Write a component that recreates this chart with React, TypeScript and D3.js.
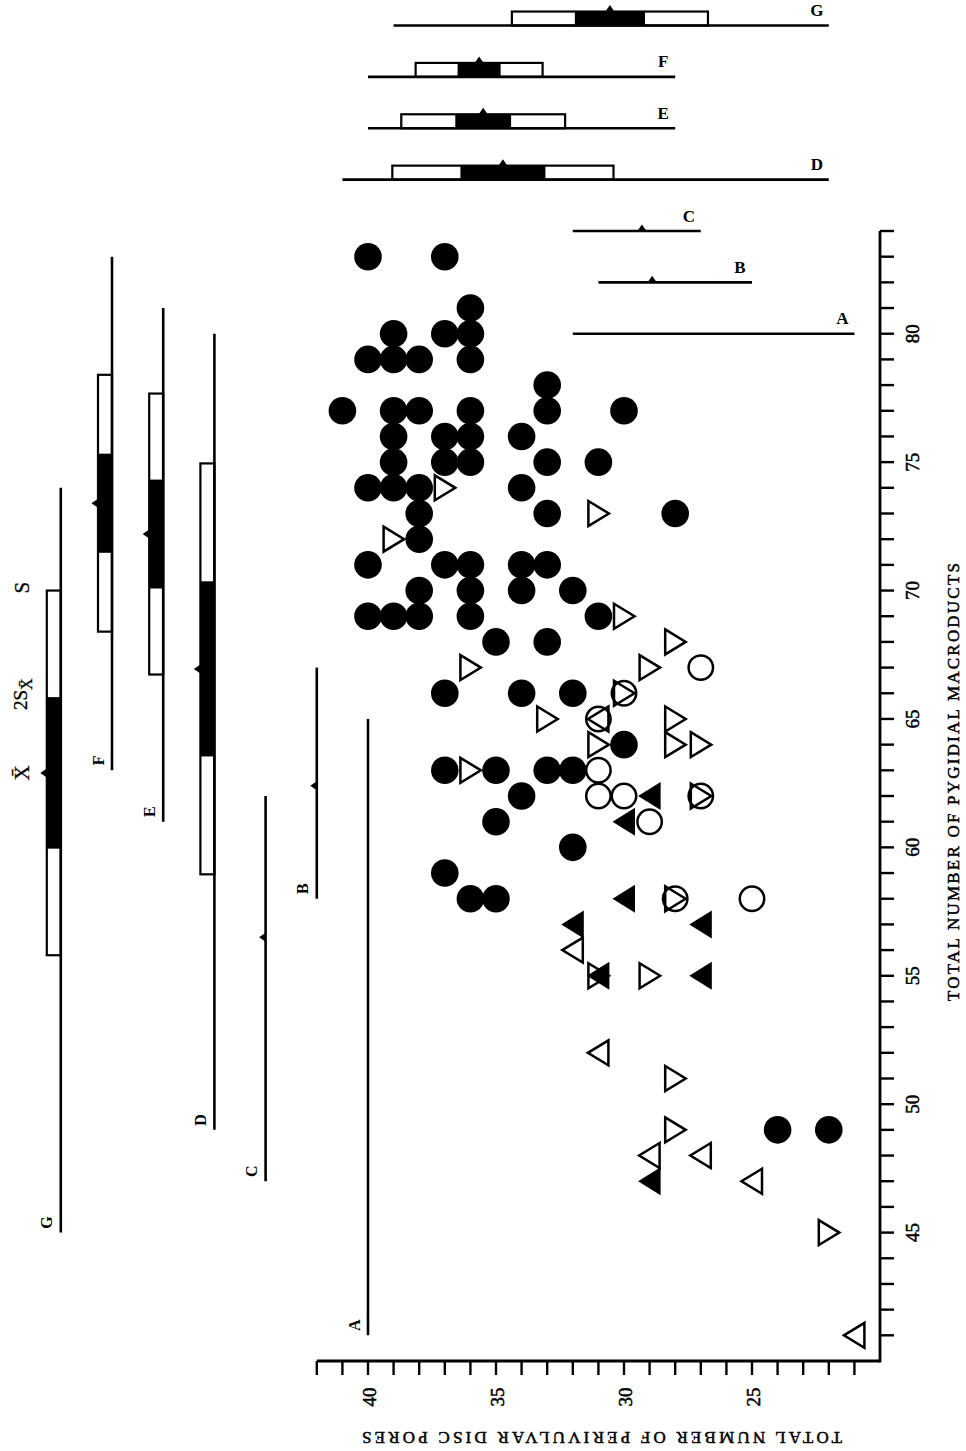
import React from 'react';
import * as d3 from 'd3';

// ---------- DATA ----------
// scatter symbols: [perivulvar disc pores, pygidial macroducts]
const filledCircles: [number, number][] = [
  [40, 83], [37, 83], [36, 81], [39, 80], [37, 80], [36, 80], [40, 79], [39, 79], [38, 79], [36, 79],
  [33, 78], [41, 77], [39, 77], [38, 77], [36, 77], [33, 77], [30, 77], [39, 76], [37, 76], [36, 76],
  [34, 76], [39, 75], [37, 75], [36, 75], [33, 75], [31, 75], [40, 74], [39, 74], [38, 74], [34, 74],
  [38, 73], [33, 73], [28, 73], [38, 72], [40, 71], [37, 71], [36, 71], [34, 71], [33, 71], [38, 70],
  [36, 70], [34, 70], [32, 70], [40, 69], [39, 69], [38, 69], [36, 69], [31, 69], [35, 68], [33, 68],
  [37, 66], [34, 66], [32, 66], [30, 64], [37, 63], [35, 63], [33, 63], [32, 63], [34, 62], [35, 61],
  [32, 60], [37, 59], [36, 58], [35, 58], [24, 49], [22, 49],
];
const openCircles: [number, number][] = [
  [31, 63], [31, 62], [30, 62], [29, 61], [27, 67], [25, 58], [30, 66], [27, 62], [28, 58], [31, 65],
];
const openRightTriangles: [number, number][] = [
  [37, 74], [31, 73], [39, 72], [30, 69], [28, 68], [29, 67], [36, 67], [33, 65], [28, 65], [31, 64],
  [28, 64], [27, 64], [36, 63], [31, 55], [29, 55], [28, 51], [28, 49], [22, 45], [30, 66], [27, 62],
  [28, 58],
];
const openLeftTriangles: [number, number][] = [
  [32, 56], [31, 52], [29, 48], [27, 48], [25, 47], [21, 41], [31, 65],
];
const filledLeftTriangles: [number, number][] = [
  [30, 61], [29, 62], [30, 58], [32, 57], [27, 57], [31, 55], [27, 55], [29, 47],
];

// Dice-Leraas diagrams
const groups = ['A', 'B', 'C', 'D', 'E', 'F', 'G'];
// macroducts (left set)
const macroMin = [41, 58, 47, 49, 61, 63, 45];
const macroMax = [65, 67, 62, 80, 81, 83, 74];
const macroMean: (number | null)[] = [null, 62.4, 56.5, 66.95, 72.2, 73.4, 62.9];
const macroSD: (number | null)[] = [null, null, null, 8.0, 5.47, 5.0, 7.1];
const macro2SE: (number | null)[] = [null, null, null, 3.41, 2.12, 1.93, 2.95];
const macroDiagramAt = [40, 42, 44, 46, 48, 50, 52]; // placed along pores scale
// pores (top-right set)
const poresMin = [21, 25, 27, 22, 28, 28, 22];
const poresMax = [32, 31, 32, 41, 40, 40, 39];
const poresMean: (number | null)[] = [null, 28.9, 29.3, 34.73, 35.5, 35.66, 30.55];
const poresSD: (number | null)[] = [null, null, null, 4.32, 3.2, 2.48, 3.83];
const pores2SE: (number | null)[] = [null, null, null, 1.66, 1.09, 0.84, 1.37];
const poresDiagramAt = [80, 82, 84, 86, 88, 90, 92]; // placed along macroducts scale

// axes
const poresTickValues = d3.range(21, 43);
const poresTickLabels = [40, 35, 30, 25];
const macroTickValues = d3.range(41, 85);
const macroTickLabels = [45, 50, 55, 60, 65, 70, 75, 80];
const poresTitle = 'TOTAL NUMBER OF PERIVULVAR DISC PORES';
const macroTitle = 'TOTAL NUMBER OF PYGIDIAL MACRODUCTS';

// ---------- SCALES ----------
const W = 966, H = 1451;
const xP = d3.scaleLinear().domain([20, 40]).range([880, 368]); // pores -> screen x
const yM = d3.scaleLinear().domain([40, 84]).range([1361, 231]); // macroducts -> screen y

const BW = 14; // diagram box thickness
const serif = '"Liberation Serif", "DejaVu Serif", serif';

const triRight = (cx: number, cy: number) => `M${cx - 10},${cy - 12.5}L${cx + 10.5},${cy}L${cx - 10},${cy + 12.5}Z`;
const triLeft = (cx: number, cy: number) => `M${cx + 10},${cy - 12.5}L${cx - 10.5},${cy}L${cx + 10},${cy + 12.5}Z`;
const triLeftFilled = (cx: number, cy: number) => `M${cx + 11},${cy - 14}L${cx - 11.5},${cy}L${cx + 11},${cy + 14}Z`;

export default function App() {
  const axisY = yM(40);
  const axisX = xP(20);
  const gMean = macroMean[6] as number;

  return (
    <svg width={W} height={H} viewBox={`0 0 ${W} ${H}`} style={{ position: 'absolute', left: 0, top: 0, background: '#fff' }}>
      <rect x={0} y={0} width={W} height={H} fill="#fff" />

      {/* axes */}
      <line x1={xP(42)} x2={axisX} y1={axisY} y2={axisY} stroke="#000" strokeWidth={2.8} />
      <line x1={axisX} x2={axisX} y1={axisY + 1.4} y2={yM(84)} stroke="#000" strokeWidth={2.8} />
      {poresTickValues.map(v => (
        <line key={'pt' + v} x1={xP(v)} x2={xP(v)} y1={axisY} y2={axisY + 14} stroke="#000" strokeWidth={2.4} />
      ))}
      {macroTickValues.map(v => (
        <line key={'mt' + v} x1={axisX} x2={axisX + 14} y1={yM(v)} y2={yM(v)} stroke="#000" strokeWidth={2.4} />
      ))}
      {poresTickLabels.map(v => (
        <text key={'pl' + v} transform={`translate(${xP(v) + 1},${axisY + 36}) rotate(-90)`} textAnchor="middle"
          dominantBaseline="central" fontFamily={serif} fontSize={19} stroke="#000" strokeWidth={0.5}>{v}</text>
      ))}
      {macroTickLabels.map(v => (
        <text key={'ml' + v} transform={`translate(${axisX + 32},${yM(v)}) rotate(-90)`} textAnchor="middle"
          dominantBaseline="central" fontFamily={serif} fontSize={19} stroke="#000" strokeWidth={0.5}>{v}</text>
      ))}
      <text transform={`translate(602,1437) rotate(180)`} textAnchor="middle" dominantBaseline="central"
        fontFamily={serif} fontSize={17} textLength={480} lengthAdjust="spacing" stroke="#000" strokeWidth={0.5}>{poresTitle}</text>
      <text transform={`translate(953,782) rotate(-90)`} textAnchor="middle" dominantBaseline="central"
        fontFamily={serif} fontSize={17} textLength={438} lengthAdjust="spacing" stroke="#000" strokeWidth={0.5}>{macroTitle}</text>

      {/* left diagrams (macroducts) */}
      {groups.map((g, i) => {
        const x = xP(macroDiagramAt[i]);
        const mean = macroMean[i], sd = macroSD[i], se = macro2SE[i];
        const tipBase = sd != null ? x - BW : x;
        return (
          <g key={'ld' + g}>
            {sd != null && mean != null && (
              <rect x={x - BW} y={yM(mean + sd)} width={BW} height={yM(mean - sd) - yM(mean + sd)} fill="#fff" stroke="#000" strokeWidth={2.2} />
            )}
            {se != null && mean != null && (
              <rect x={x - BW} y={yM(mean + se)} width={BW} height={yM(mean - se) - yM(mean + se)} fill="#000" />
            )}
            <line x1={x} x2={x} y1={yM(macroMax[i])} y2={yM(macroMin[i])} stroke="#000" strokeWidth={2.6} />
            {mean != null && (
              <path d={`M${tipBase},${yM(mean) - 4.5}L${tipBase - 6.5},${yM(mean)}L${tipBase},${yM(mean) + 4.5}Z`} fill="#000" />
            )}
            <text transform={`translate(${x - 14},${yM(macroMin[i]) - 10}) rotate(-90)`} textAnchor="middle" dominantBaseline="central"
              fontFamily={serif} fontWeight="bold" fontSize={16}>{g}</text>
          </g>
        );
      })}
      {/* header labels of the G diagram */}
      <text transform={`translate(22,${yM(gMean + (macroSD[6] as number)) - 3}) rotate(-90)`} textAnchor="middle"
        dominantBaseline="central" fontFamily={serif} fontSize={21} stroke="#000" strokeWidth={0.3}>S</text>
      <text transform={`translate(20,${yM(gMean + (macro2SE[6] as number)) - 3}) rotate(-90)`} textAnchor="middle"
        dominantBaseline="central" fontFamily={serif} fontSize={19} stroke="#000" strokeWidth={0.3}>2S<tspan fontSize={16} dy={6}>{'X\u0304'}</tspan></text>
      <text transform={`translate(22,${yM(gMean)}) rotate(-90)`} textAnchor="middle"
        dominantBaseline="central" fontFamily={serif} fontSize={21} stroke="#000" strokeWidth={0.3}>{'X\u0304'}</text>

      {/* top-right diagrams (pores) */}
      {groups.map((g, i) => {
        const y = yM(poresDiagramAt[i]);
        const mean = poresMean[i], sd = poresSD[i], se = pores2SE[i];
        const tipBase = sd != null ? y - BW : y;
        return (
          <g key={'td' + g}>
            {sd != null && mean != null && (
              <rect x={xP(mean + sd)} y={y - BW} width={xP(mean - sd) - xP(mean + sd)} height={BW} fill="#fff" stroke="#000" strokeWidth={2.2} />
            )}
            {se != null && mean != null && (
              <rect x={xP(mean + se)} y={y - BW} width={xP(mean - se) - xP(mean + se)} height={BW} fill="#000" />
            )}
            <line x1={xP(poresMax[i])} x2={xP(poresMin[i])} y1={y} y2={y} stroke="#000" strokeWidth={2.6} />
            {mean != null && (
              <path d={`M${xP(mean) - 4.5},${tipBase}L${xP(mean)},${tipBase - 6.5}L${xP(mean) + 4.5},${tipBase}Z`} fill="#000" />
            )}
            <text x={xP(poresMin[i]) - 12} y={y - 15} textAnchor="middle" dominantBaseline="central"
              fontFamily={serif} fontWeight="bold" fontSize={17}>{g}</text>
          </g>
        );
      })}

      {/* scatter */}
      {filledCircles.map(([p, m], i) => (
        <circle key={'fc' + i} cx={xP(p)} cy={yM(m)} r={13.8} fill="#000" />
      ))}
      {openCircles.map(([p, m], i) => (
        <circle key={'oc' + i} cx={xP(p)} cy={yM(m)} r={12.2} fill="none" stroke="#000" strokeWidth={2.5} />
      ))}
      {openRightTriangles.map(([p, m], i) => (
        <path key={'rt' + i} d={triRight(xP(p), yM(m))} fill="none" stroke="#000" strokeWidth={2.5} strokeLinejoin="miter" />
      ))}
      {openLeftTriangles.map(([p, m], i) => (
        <path key={'lt' + i} d={triLeft(xP(p), yM(m))} fill="none" stroke="#000" strokeWidth={2.5} strokeLinejoin="miter" />
      ))}
      {filledLeftTriangles.map(([p, m], i) => (
        <path key={'flt' + i} d={triLeftFilled(xP(p), yM(m))} fill="#000" />
      ))}
    </svg>
  );
}
